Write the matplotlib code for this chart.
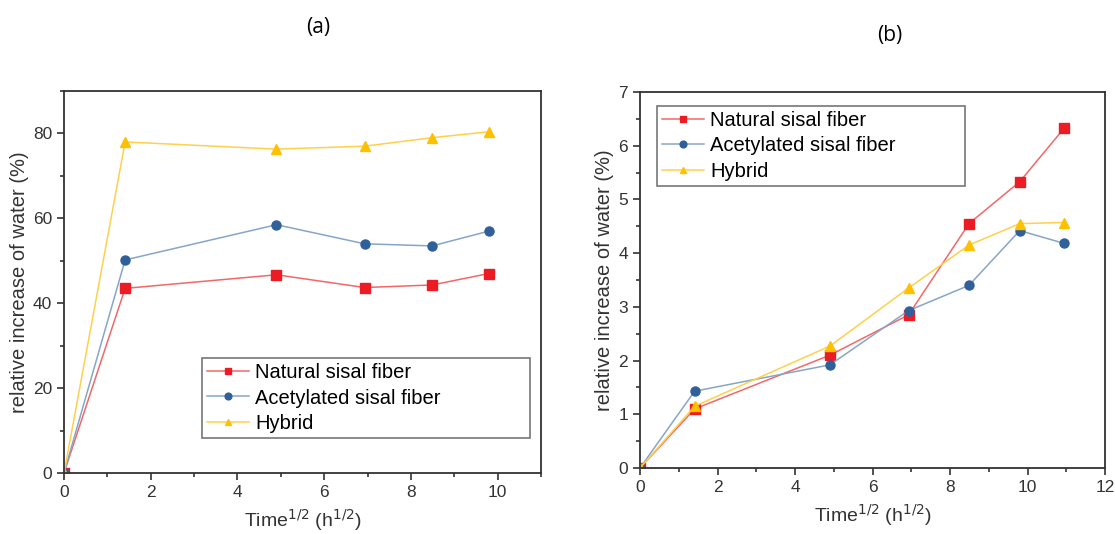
import numpy as np
import matplotlib.pyplot as plt
from matplotlib.ticker import MultipleLocator

plt.rcParams["font.family"] = ["Liberation Sans", "DejaVu Sans"]

# (a) data
time_a = [0, 1.41, 4.9, 6.93, 8.49, 9.8]
natural_a = [0, 43.5, 46.7, 43.7, 44.3, 47.0]
acetyl_a = [0, 50.2, 58.5, 54.0, 53.5, 57.0]
hybrid_a = [0, 78.0, 76.3, 77.0, 79.0, 80.4]

# (b) data
time_b = [0, 1.41, 4.9, 6.93, 8.49, 9.8, 10.95]
natural_b = [0, 1.1, 2.1, 2.85, 4.55, 5.33, 6.33]
acetyl_b = [0, 1.43, 1.92, 2.93, 3.4, 4.42, 4.18]
hybrid_b = [0, 1.15, 2.27, 3.35, 4.15, 4.55, 4.57]

labels = ["Natural sisal fiber", "Acetylated sisal fiber", "Hybrid"]
colors = ["#ec1c24", "#30609a", "#ffc000"]
line_colors = ["#f26868", "#86a6c8", "#ffd04c"]
markers = ["s", "o", "^"]

W, H = 1115, 534
fig = plt.figure(figsize=(W / 100, H / 100), dpi=100)

ax_a = fig.add_axes([64 / W, 1 - 473 / H, (541 - 64) / W, (473 - 91) / H])
ax_b = fig.add_axes([640 / W, 1 - 468 / H, (1105 - 640) / W, (468 - 92) / H])


def draw(ax, x, series):
    for y, lab, c, lc, m in zip(series, labels, colors, line_colors, markers):
        ax.plot(x, y, color=lc, lw=1.1, marker=m, markersize=6.5,
                markerfacecolor=c, markeredgecolor=c, label=lab)
    for side in ["top", "right", "left", "bottom"]:
        ax.spines[side].set_linewidth(1.3)
        ax.spines[side].set_color("#333333")
    ax.tick_params(which="both", direction="out", top=False, right=False,
                   labelsize=12.5, colors="#333333", width=1.2)
    ax.tick_params(which="major", length=5)
    ax.tick_params(which="minor", length=3)
    ax.xaxis.set_minor_locator(MultipleLocator(1))
    ax.set_xlabel("Time$^{1/2}$ (h$^{1/2}$)", fontsize=14, color="#333333", labelpad=5)
    ax.set_ylabel("relative increase of water (%)", fontsize=14.5, color="#333333",
                  labelpad=3)


def legend(ax, **kw):
    # expand mode leaves the empty room on the right like the original box
    leg = ax.legend(fontsize=14.5, frameon=True, fancybox=False, mode="expand",
                    edgecolor="#555555", handlelength=2.1, handletextpad=0.3,
                    borderpad=0.25, labelspacing=0.32, borderaxespad=0,
                    markerscale=0.75, **kw)
    leg.get_frame().set_linewidth(1.2)


draw(ax_a, time_a, [natural_a, acetyl_a, hybrid_a])
ax_a.set_xlim(0, 11)
ax_a.set_ylim(0, 90)
ax_a.xaxis.set_major_locator(MultipleLocator(2))
ax_a.yaxis.set_major_locator(MultipleLocator(20))
ax_a.yaxis.set_minor_locator(MultipleLocator(10))
legend(ax_a, loc="lower left",
       bbox_to_anchor=((202 - 64) / 477, (473 - 438) / 382, 328 / 477, 0.25))

draw(ax_b, time_b, [natural_b, acetyl_b, hybrid_b])
ax_b.set_xlim(0, 12)
ax_b.set_ylim(0, 7)
ax_b.xaxis.set_major_locator(MultipleLocator(2))
ax_b.yaxis.set_major_locator(MultipleLocator(1))
ax_b.yaxis.set_minor_locator(MultipleLocator(0.5))
legend(ax_b, loc="upper left",
       bbox_to_anchor=((657 - 640) / 465, (468 - 106) / 376 - 0.25, 308 / 465, 0.25))

fig.text(318 / W, 1 - 28 / H, "(a)", fontsize=15, ha="center", va="center",
         family=["Open Sans", "DejaVu Sans"])
fig.text(890 / W, 1 - 35 / H, "(b)", fontsize=15, ha="center", va="center",
         family=["Open Sans", "DejaVu Sans"])

fig.savefig("out.png", dpi=100)
